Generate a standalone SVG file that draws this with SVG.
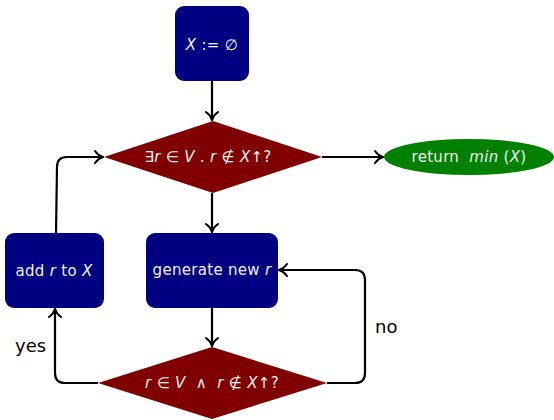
<svg xmlns="http://www.w3.org/2000/svg" width="554" height="420" viewBox="0 0 554 420">
<style>
.box{fill:#000080;}
.dia{fill:#800000;}
.ell{fill:#008000;}
.t{font-family:"DejaVu Sans","Liberation Sans",sans-serif;font-size:15px;fill:#f0f0f0;text-anchor:middle;dominant-baseline:central;letter-spacing:0.3px;}
.i{font-style:italic;}
.lbl{font-family:"DejaVu Sans","Liberation Sans",sans-serif;font-size:18px;fill:#000000;}
.c{fill:none;stroke:#000000;stroke-width:2.2;stroke-linejoin:round;marker-end:url(#ah);}
</style>
<defs>
<marker id="ah" viewBox="0 0 12 14" refX="11" refY="7" markerWidth="12" markerHeight="14" markerUnits="userSpaceOnUse" orient="auto">
<path d="M3,1 Q6,5.5 11,7 Q6,8.5 3,13" fill="none" stroke="#000" stroke-width="2" stroke-linecap="round"/>
</marker>
</defs>
<g id="connectors">
<path class="c" d="M212,81 V120"/>
<path class="c" d="M322,157 H383"/>
<path class="c" d="M212,193 V232"/>
<path class="c" d="M212,308 V346"/>
<path class="c" d="M98,383 H65 Q55,383 55,373 V309"/>
<path class="c" d="M56,233 L57,167 Q57,157 67,157 H103"/>
<path class="c" d="M327,383 H355 Q365,383 365,373 V280 Q365,270 355,270 H279"/>
</g>
<g id="init">
<rect class="box" x="175" y="6" width="74" height="75" rx="9"/>
<text class="t" x="212" y="45" xml:space="preserve"><tspan class="i">X</tspan> := ∅</text>
</g>
<g id="cond1">
<polygon class="dia" points="104,157 213,121 322,157 213,193"/>
<text class="t" x="208" y="157" xml:space="preserve">∃<tspan class="i">r</tspan> ∈ <tspan class="i">V</tspan> . <tspan class="i">r</tspan> ∉ <tspan class="i">X</tspan>↑?</text>
</g>
<g id="ret">
<ellipse class="ell" cx="469" cy="157" rx="85" ry="18"/>
<text class="t" x="469" y="157" xml:space="preserve">return  <tspan class="i">min</tspan> (<tspan class="i">X</tspan>)</text>
</g>
<g id="gen">
<rect class="box" x="146" y="233" width="132" height="75" rx="9"/>
<text class="t" x="212" y="270">generate new <tspan class="i">r</tspan></text>
</g>
<g id="add">
<rect class="box" x="5" y="233" width="99" height="75" rx="9"/>
<text class="t" x="54" y="271" xml:space="preserve">add <tspan class="i">r</tspan> to <tspan class="i">X</tspan></text>
</g>
<g id="cond2">
<polygon class="dia" points="98,383 212,347 327,383 212,419"/>
<text class="t" x="212" y="383" xml:space="preserve"><tspan class="i">r</tspan> ∈ <tspan class="i">V</tspan>  ∧  <tspan class="i">r</tspan> ∉ <tspan class="i">X</tspan>↑?</text>
</g>
<text class="lbl" x="15" y="352">yes</text>
<text class="lbl" x="375" y="333">no</text>
</svg>
